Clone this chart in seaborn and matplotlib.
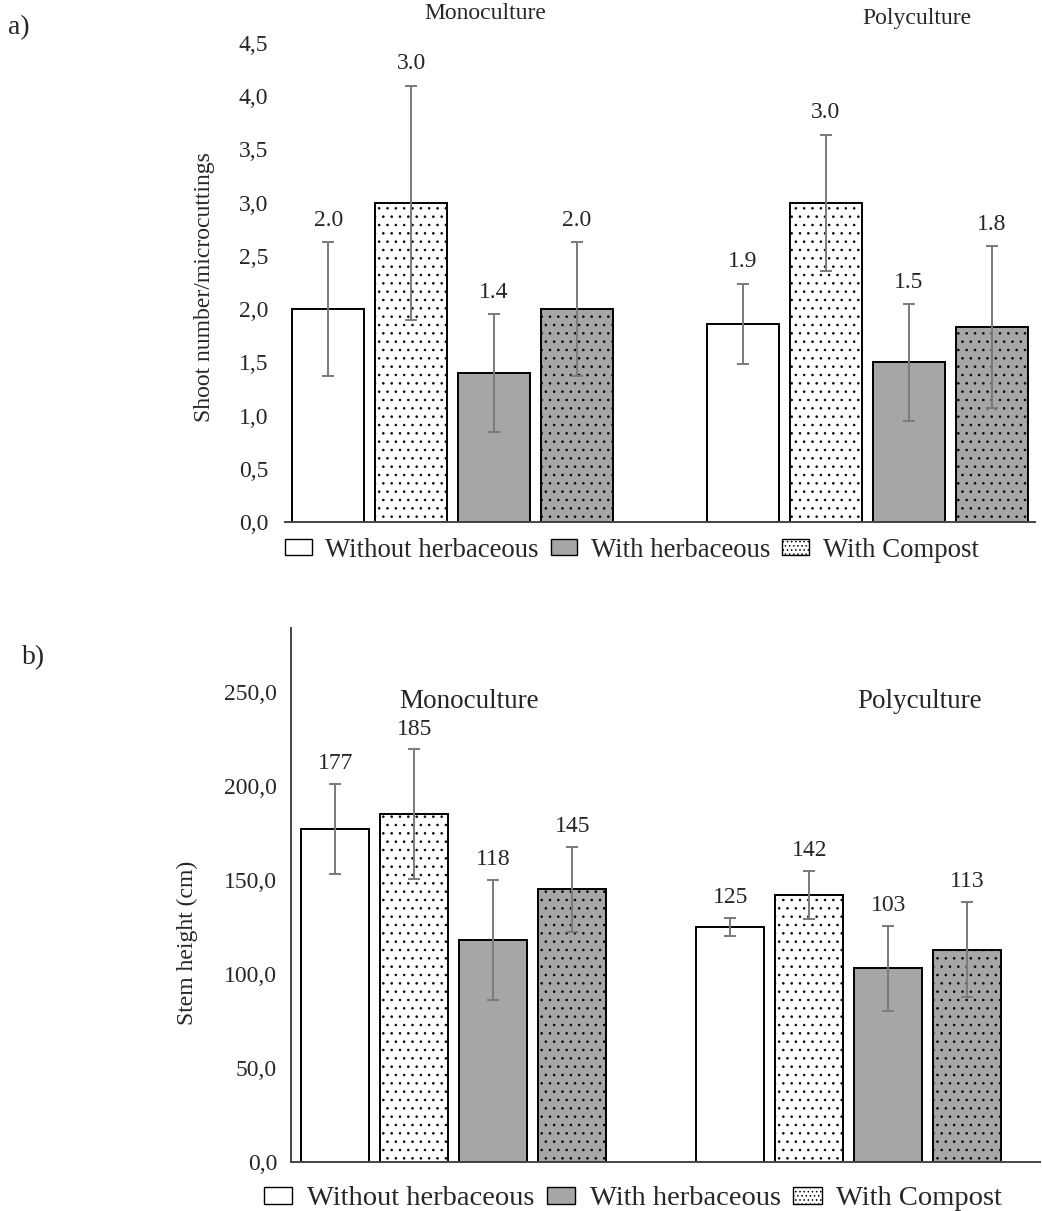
import numpy as np
import pandas as pd
import matplotlib

matplotlib.use("Agg")
import matplotlib.pyplot as plt
import seaborn as sns
from matplotlib.patches import Patch
from matplotlib.ticker import FuncFormatter

# treatments in bar order within each system
TREATMENTS = ["Without herbaceous", "Without herbaceous + compost",
              "With herbaceous", "With herbaceous + compost"]
SYSTEMS = ["Monoculture", "Polyculture"]

# panel a: shoot number per microcutting (mean, +/- error)
shoot_mono = [2.0, 3.0, 1.4, 2.0]
shoot_mono_err = [0.63, 1.10, 0.55, 0.63]
shoot_poly = [1.86, 3.0, 1.5, 1.83]
shoot_poly_err = [0.38, 0.64, 0.55, 0.76]

# panel b: stem height (cm)
stem_mono = [177, 185, 118, 145]
stem_mono_err = [24, 34.5, 32, 22.5]
stem_poly = [125, 142, 103, 113]
stem_poly_err = [4.8, 13, 22.5, 25.5]

LEGEND_LABELS = ["Without herbaceous", "With herbaceous", "With Compost"]

GRAY = "#a6a6a6"
ERR_GRAY = "#7a7a7a"
# (facecolor, hatch) per treatment
STYLES = [("white", ""), ("white", ".."), (GRAY, ""), (GRAY, "..")]

sns.set_theme(style="white")
plt.rcParams["font.family"] = ["Liberation Serif", "DejaVu Serif"]
plt.rcParams["hatch.linewidth"] = 0.6
plt.rcParams["hatch.color"] = "black"


def make_frame(mono, mono_err, poly, poly_err):
    # positions 0-3 for monoculture, 5-8 for polyculture (one empty slot between)
    rows = []
    for i, t in enumerate(TREATMENTS):
        rows.append({"pos": i, "value": mono[i], "err": mono_err[i], "treatment": t})
    for i, t in enumerate(TREATMENTS):
        rows.append({"pos": i + 5, "value": poly[i], "err": poly_err[i], "treatment": t})
    return pd.DataFrame(rows).sort_values("pos").reset_index(drop=True)


def draw_panel(ax, df, width, fmt, label_offset):
    sns.barplot(data=df, x="pos", y="value", native_scale=True, width=width,
                color="white", edgecolor="black", linewidth=1.4, ax=ax, zorder=2)
    for patch, t in zip(ax.patches, df["treatment"]):
        fc, hatch = STYLES[TREATMENTS.index(t)]
        patch.set_facecolor(fc)
        patch.set_hatch(hatch)
    ax.errorbar(df["pos"], df["value"], yerr=df["err"], fmt="none",
                ecolor=ERR_GRAY, elinewidth=1.4, capsize=4, capthick=1.4,
                zorder=3, clip_on=False)
    for _, r in df.iterrows():
        ax.annotate(fmt.format(r["value"]), (r["pos"], r["value"] + r["err"]),
                    xytext=(0, label_offset), textcoords="offset points",
                    ha="center", va="bottom", fontsize=17)
    ax.set_xlabel("")
    ax.set_xticks([])
    for s in ["top", "right"]:
        ax.spines[s].set_visible(False)
    ax.spines["bottom"].set_color("#444444")
    ax.spines["bottom"].set_linewidth(1.4)
    ax.tick_params(axis="y", length=0, labelsize=17)


def add_legend(ax, x, y, size):
    handles = [Patch(facecolor="white", edgecolor="black", linewidth=1.0),
               Patch(facecolor=GRAY, edgecolor="black", linewidth=1.0),
               Patch(facecolor="white", edgecolor="black", linewidth=1.0, hatch="....")]
    ax.legend(handles, LEGEND_LABELS, loc="upper left", bbox_to_anchor=(x, y),
              ncol=3, frameon=False, fontsize=size, handlelength=1.0, handleheight=0.55,
              handletextpad=0.5, columnspacing=0.45, borderaxespad=0)


fig = plt.figure(figsize=(10.42, 12.11), dpi=100)
W, H = 1042, 1211

# panel a
ax_a = fig.add_axes([285 / W, 1 - 522 / H, 750 / W, (522 - 43) / H])
df_a = make_frame(shoot_mono, shoot_mono_err, shoot_poly, shoot_poly_err)
draw_panel(ax_a, df_a, 0.87, "{:.1f}", 8)
ax_a.set_xlim(-0.52, 8.52)
ax_a.set_ylim(0, 4.5)
ax_a.set_yticks(np.arange(0, 4.51, 0.5))
ax_a.yaxis.set_major_formatter(FuncFormatter(lambda v, p: f"{v:.1f}".replace(".", ",")))
ax_a.spines["left"].set_visible(False)
ax_a.tick_params(axis="y", pad=12)
ax_a.set_ylabel("Shoot number/microcuttings", fontsize=17)
ax_a.yaxis.set_label_coords(-0.093, 0.49)
ax_a.text(1.9, 4.78, SYSTEMS[0], ha="center", va="center", fontsize=17)
ax_a.text(7.1, 4.73, SYSTEMS[1], ha="center", va="center", fontsize=17)
add_legend(ax_a, -0.0144, -0.010, 19.3)

# panel b
ax_b = fig.add_axes([291 / W, 1 - 1162 / H, 749 / W, (1162 - 628) / H])
df_b = make_frame(stem_mono, stem_mono_err, stem_poly, stem_poly_err)
draw_panel(ax_b, df_b, 0.86, "{:.0f}", 7)
ax_b.set_xlim(-0.56, 8.92)
ax_b.set_ylim(0, 284)
ax_b.set_yticks(np.arange(0, 251, 50))
ax_b.yaxis.set_major_formatter(FuncFormatter(lambda v, p: f"{v:.1f}".replace(".", ",")))
ax_b.spines["left"].set_color("#444444")
ax_b.spines["left"].set_linewidth(1.4)
ax_b.tick_params(axis="y", pad=10)
ax_b.set_ylabel("Stem height (cm)", fontsize=17)
ax_b.yaxis.set_label_coords(-0.124, 0.41)
ax_b.text(1.7, 245, SYSTEMS[0], ha="center", va="center", fontsize=19.5)
ax_b.text(7.4, 245, SYSTEMS[1], ha="center", va="center", fontsize=19.5)
add_legend(ax_b, -0.0513, -0.024, 20.5)

fig.text(8 / W, 1 - 28 / H, "a)", ha="left", va="center", fontsize=20)
fig.text(22 / W, 1 - 658 / H, "b)", ha="left", va="center", fontsize=20)

fig.savefig("out.png", dpi=100)
